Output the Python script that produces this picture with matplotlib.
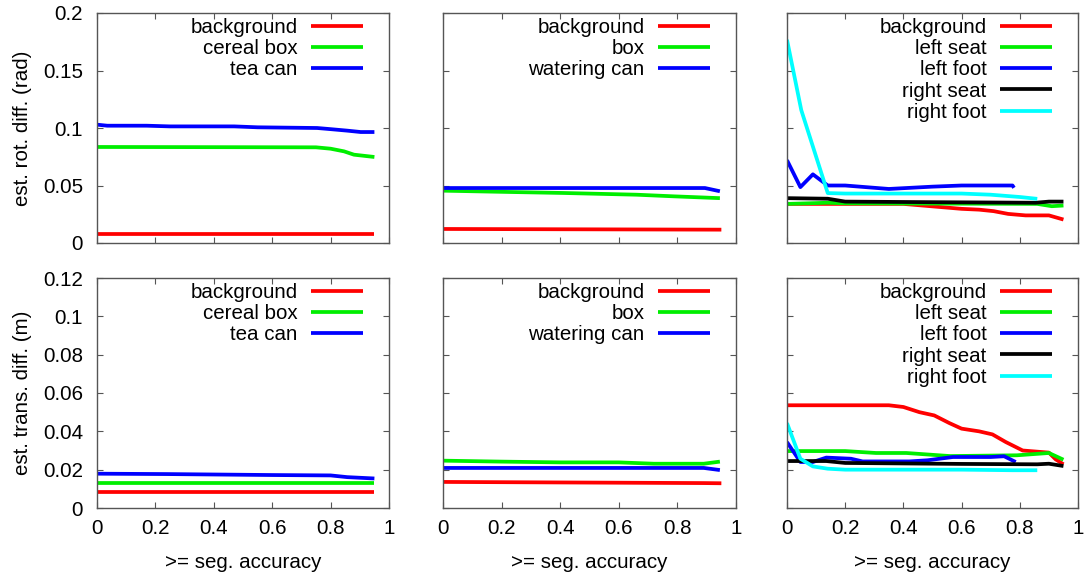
import matplotlib.pyplot as plt
from matplotlib.ticker import FormatStrFormatter

plt.rcParams['font.family'] = ['Liberation Sans', 'DejaVu Sans']

# ---- data ----
# top-left: rotation, cereal box / tea can
rl_bg_x = [0, 0.95]
rl_bg_y = [0.0075, 0.0075]
rl_cb_x = [0, 0.5, 0.75, 0.8, 0.846, 0.88, 0.95]
rl_cb_y = [0.0835, 0.0833, 0.0832, 0.082, 0.0797, 0.0768, 0.0748]
rl_tc_x = [0, 0.035, 0.17, 0.25, 0.47, 0.55, 0.754, 0.8, 0.857, 0.903, 0.95]
rl_tc_y = [0.1029, 0.102, 0.102, 0.1014, 0.1014, 0.1006, 0.1, 0.099, 0.0977, 0.0965, 0.0965]

# top-middle: rotation, box / watering can
rm_bg_x = [0, 0.95]
rm_bg_y = [0.0122, 0.0116]
rm_bx_x = [0, 0.24, 0.41, 0.66, 0.786, 0.945]
rm_bx_y = [0.0455, 0.0443, 0.0435, 0.042, 0.0406, 0.039]
rm_wc_x = [0, 0.894, 0.945]
rm_wc_y = [0.0478, 0.0478, 0.045]

# top-right: rotation, chair parts
rr_bg_x = [0, 0.4, 0.6, 0.66, 0.71, 0.76, 0.82, 0.9, 0.95]
rr_bg_y = [0.034, 0.034, 0.0297, 0.029, 0.0277, 0.0253, 0.024, 0.024, 0.0204]
rr_ls_x = [0, 0.14, 0.2, 0.86, 0.91, 0.95]
rr_ls_y = [0.034, 0.035, 0.0345, 0.034, 0.032, 0.0326]
rr_lf_x = [0, 0.046, 0.089, 0.14, 0.2, 0.35, 0.5, 0.6, 0.775, 0.78]
rr_lf_y = [0.072, 0.0486, 0.0597, 0.050, 0.050, 0.047, 0.049, 0.050, 0.050, 0.048]
rr_rs_x = [0, 0.14, 0.2, 0.5, 0.855, 0.9, 0.95]
rr_rs_y = [0.039, 0.0385, 0.036, 0.0355, 0.035, 0.036, 0.036]
rr_rf_x = [0, 0.049, 0.14, 0.2, 0.6, 0.7, 0.8, 0.86]
rr_rf_y = [0.1767, 0.1156, 0.0434, 0.043, 0.043, 0.042, 0.040, 0.0384]

# bottom-left: translation, cereal box / tea can
tl_bg_x = [0, 0.95]
tl_bg_y = [0.0083, 0.0083]
tl_cb_x = [0, 0.95]
tl_cb_y = [0.013, 0.013]
tl_tc_x = [0, 0.24, 0.6, 0.8, 0.857, 0.95]
tl_tc_y = [0.0179, 0.0177, 0.0172, 0.017, 0.0161, 0.0154]

# bottom-middle: translation, box / watering can
tm_bg_x = [0, 0.89, 0.95]
tm_bg_y = [0.0136, 0.013, 0.0129]
tm_bx_x = [0, 0.2, 0.4, 0.6, 0.72, 0.89, 0.945]
tm_bx_y = [0.0247, 0.0242, 0.0238, 0.0238, 0.0231, 0.0231, 0.0242]
tm_wc_x = [0, 0.89, 0.945]
tm_wc_y = [0.0209, 0.0209, 0.0198]

# bottom-right: translation, chair parts
tr_bg_x = [0, 0.35, 0.4, 0.455, 0.506, 0.558, 0.6, 0.66, 0.706, 0.752, 0.81, 0.9, 0.923, 0.95]
tr_bg_y = [0.0536, 0.0536, 0.0527, 0.050, 0.0483, 0.0443, 0.0414, 0.040, 0.0384, 0.0344, 0.030, 0.0289, 0.0254, 0.0228]
tr_ls_x = [0, 0.2, 0.306, 0.41, 0.56, 0.79, 0.9, 0.95]
tr_ls_y = [0.0297, 0.0297, 0.0287, 0.0287, 0.0271, 0.0275, 0.0287, 0.0252]
tr_lf_x = [0, 0.046, 0.089, 0.135, 0.22, 0.26, 0.42, 0.483, 0.57, 0.7, 0.746, 0.786]
tr_lf_y = [0.0344, 0.024, 0.024, 0.0263, 0.0257, 0.0243, 0.0243, 0.0249, 0.0266, 0.0266, 0.027, 0.024]
tr_rs_x = [0, 0.135, 0.2, 0.6, 0.86, 0.9, 0.95]
tr_rs_y = [0.0245, 0.0245, 0.0235, 0.023, 0.0228, 0.0231, 0.0219]
tr_rf_x = [0, 0.046, 0.089, 0.14, 0.2, 0.6, 0.775, 0.86]
tr_rf_y = [0.0443, 0.0257, 0.0217, 0.0205, 0.020, 0.020, 0.0197, 0.0197]

labels_left = ['background', 'cereal box', 'tea can']
labels_mid = ['background', 'box', 'watering can']
labels_right = ['background', 'left seat', 'left foot', 'right seat', 'right foot']
colors = ['#ff0000', '#00ee00', '#0000ff', '#000000', '#00ffff']

panels = [
    [[(rl_bg_x, rl_bg_y), (rl_cb_x, rl_cb_y), (rl_tc_x, rl_tc_y)], labels_left],
    [[(rm_bg_x, rm_bg_y), (rm_bx_x, rm_bx_y), (rm_wc_x, rm_wc_y)], labels_mid],
    [[(rr_bg_x, rr_bg_y), (rr_ls_x, rr_ls_y), (rr_lf_x, rr_lf_y), (rr_rs_x, rr_rs_y), (rr_rf_x, rr_rf_y)], labels_right],
    [[(tl_bg_x, tl_bg_y), (tl_cb_x, tl_cb_y), (tl_tc_x, tl_tc_y)], labels_left],
    [[(tm_bg_x, tm_bg_y), (tm_bx_x, tm_bx_y), (tm_wc_x, tm_wc_y)], labels_mid],
    [[(tr_bg_x, tr_bg_y), (tr_ls_x, tr_ls_y), (tr_lf_x, tr_lf_y), (tr_rs_x, tr_rs_y), (tr_rf_x, tr_rf_y)], labels_right],
]

FS = 14.8

fig = plt.figure(figsize=(10.85, 5.78), dpi=100)
lefts = [97 / 1085, 443 / 1085, 787 / 1085]
widths = [292 / 1085, 293 / 1085, 291 / 1085]
bottoms = [1 - 243 / 578, 1 - 508 / 578]
height = 230 / 578

for i, (series, labels) in enumerate(panels):
    row, col = divmod(i, 3)
    ax = fig.add_axes([lefts[col], bottoms[row], widths[col], height])
    for (x, y), lab, c in zip(series, labels, colors):
        ax.plot(x, y, color=c, lw=2.7, label=lab, solid_capstyle='butt')
    ax.set_xlim(0, 1)
    ax.set_xticks([0, 0.2, 0.4, 0.6, 0.8, 1])
    if row == 0:
        ax.set_ylim(0, 0.2)
        ax.set_yticks([0, 0.05, 0.1, 0.15, 0.2])
    else:
        ax.set_ylim(0, 0.12)
        ax.set_yticks([0, 0.02, 0.04, 0.06, 0.08, 0.1, 0.12])
    ax.xaxis.set_major_formatter(FormatStrFormatter('%g'))
    ax.yaxis.set_major_formatter(FormatStrFormatter('%g'))
    ax.tick_params(direction='in', top=True, right=True, length=4, width=0.8,
                   labelsize=FS, color='#555555')
    ax.tick_params(axis='x', pad=8)
    ax.tick_params(axis='y', pad=10)
    for s in ax.spines.values():
        s.set_color('#555555')
        s.set_linewidth(1.0)
    if row == 0:
        ax.tick_params(labelbottom=False)
    else:
        ax.set_xlabel('>= seg. accuracy', fontsize=FS, labelpad=11)
    if col != 0:
        ax.tick_params(labelleft=False)
    elif row == 0:
        ax.set_ylabel('est. rot. diff. (rad)', fontsize=FS, labelpad=8)
    else:
        ax.set_ylabel('est. trans. diff. (m)', fontsize=FS, labelpad=8)
    ax.legend(loc='upper right', bbox_to_anchor=(1 - 18 / 292, 1.015), frameon=False,
              markerfirst=False, fontsize=FS, handlelength=2.5,
              labelspacing=0.11, handletextpad=0.68, borderaxespad=0.0,
              borderpad=0.4)

fig.savefig('out.png', dpi=100)
